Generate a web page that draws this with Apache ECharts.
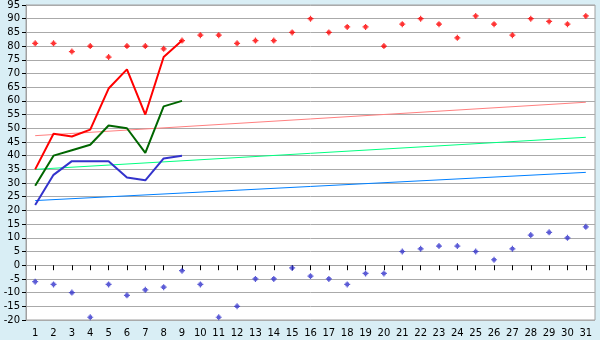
<!DOCTYPE html>
<html><head><meta charset="utf-8">
<script src="https://cdn.jsdelivr.net/npm/echarts@6/dist/echarts.min.js"></script>
<style>html,body{margin:0;padding:0;background:#D9EEF5;}#c{width:600px;height:340px;}</style>
</head><body><div id="c"></div>
<script>
const days = ['1','2','3','4','5','6','7','8','9','10','11','12','13','14','15','16','17','18','19','20','21','22','23','24','25','26','27','28','29','30','31'];
const maxPoints = [81,81,78,80,76,80,80,79,82,84,84,81,82,82,85,90,85,87,87,80,88,90,88,83,91,88,84,90,89,88,91];
const minPoints = [-6,-7,-10,-19,-7,-11,-9,-8,-2,-7,-19,-15,-5,-5,-1,-4,-5,-7,-3,-3,5,6,7,7,5,2,6,11,12,10,14];
const redLine = [35,48,47,49.5,64.5,71.5,55,76,82];
const greenLine = [29,40,42,44,51,50,41,58,60];
const blueLine = [22,33,38,38,38,32,31,39,40];
const redTrend = [['1',47.3],['31',59.5]];
const greenTrend = [['1',35],['31',46.7]];
const blueTrend = [['1',23.6],['31',33.9]];
const yMin = -20, yMax = 95, yStep = 5;

const markPath = 'path://M2,0H3V1H4V2H5V3H4V4H3V5H2V4H1V3H0V2H1V1H2Z';
const chart = echarts.init(document.getElementById('c'));
chart.setOption({
  animation:false,
  backgroundColor:'#D9EEF5',
  textStyle:{fontFamily:'DejaVu Sans'},
  grid:{left:26,right:5,top:5,bottom:20,show:true,backgroundColor:'#FFFFFF',borderColor:'#A0A0A0',borderWidth:1,containLabel:false},
  xAxis:{type:'category',data:days,boundaryGap:true,
    axisLine:{show:true,lineStyle:{color:'#A0A0A0'}},
    axisTick:{show:true,alignWithLabel:true,length:5,lineStyle:{color:'#000'}},
    axisLabel:{color:'#000',fontSize:10,fontFamily:'DejaVu Sans',margin:8,interval:0}},
  yAxis:{type:'value',min:yMin,max:yMax,interval:yStep,
    axisLine:{show:true,lineStyle:{color:'#A0A0A0'}},
    axisTick:{show:true,length:4,lineStyle:{color:'#000'}},
    axisLabel:{color:'#000',fontSize:10,fontFamily:'DejaVu Sans',margin:6},
    splitLine:{show:true,lineStyle:{color:'#AAAAAA',width:1}}},
  series:[
    {type:'line',data:redTrend,symbol:'none',lineStyle:{color:'#FF8080',width:1},z:2},
    {type:'line',data:greenTrend,symbol:'none',lineStyle:{color:'#00FF80',width:1},z:2},
    {type:'line',data:blueTrend,symbol:'none',lineStyle:{color:'#0080FF',width:1},z:2},
    {type:'line',data:redLine,symbol:'none',lineStyle:{color:'#FF0000',width:2},z:3},
    {type:'line',data:greenLine,symbol:'none',lineStyle:{color:'#006600',width:2},z:3},
    {type:'line',data:blueLine,symbol:'none',lineStyle:{color:'#3333CC',width:2},z:3},
    {type:'scatter',data:maxPoints,symbol:markPath,symbolSize:6,itemStyle:{color:'#FF0000'},z:4},
    {type:'scatter',data:minPoints,symbol:markPath,symbolSize:6,itemStyle:{color:'#3333CC'},z:4}
  ]
});
</script></body></html>
